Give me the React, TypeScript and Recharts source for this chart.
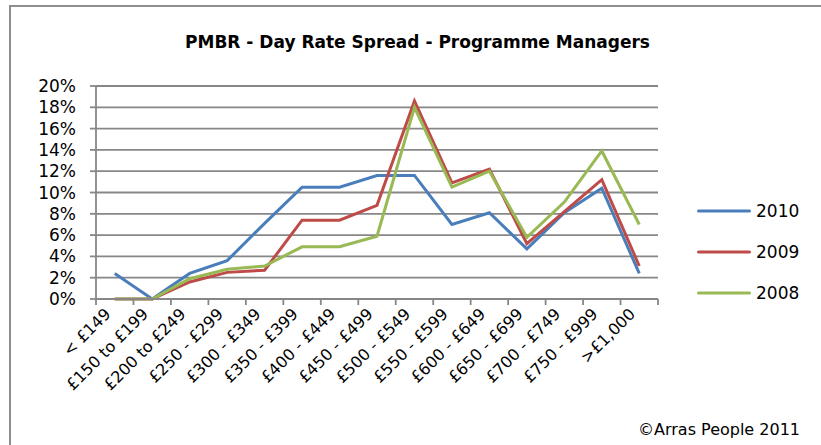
import React from 'react';
import { LineChart, Line, XAxis, YAxis, CartesianGrid, Legend } from 'recharts';

const categories = [
  '< £149',
  '£150 to £199',
  '£200 to £249',
  '£250 - £299',
  '£300 - £349',
  '£350 - £399',
  '£400 - £449',
  '£450 - £499',
  '£500 - £549',
  '£550 - £599',
  '£600 - £649',
  '£650 - £699',
  '£700 - £749',
  '£750 - £999',
  '>£1,000',
];

const series2010 = [2.4, 0, 2.4, 3.6, 7.1, 10.5, 10.5, 11.6, 11.6, 7.0, 8.1, 4.7, 8.1, 10.4, 2.4];
const series2009 = [0, 0, 1.6, 2.5, 2.7, 7.4, 7.4, 8.8, 18.6, 10.9, 12.2, 5.2, 8.2, 11.2, 3.1];
const series2008 = [0, 0, 1.9, 2.8, 3.1, 4.9, 4.9, 5.9, 18.0, 10.5, 12.0, 5.8, 9.1, 13.9, 7.0];

const seriesNames = ['2010', '2009', '2008'];
const seriesColors = ['#4A7EBB', '#BE4B48', '#98B954'];
const yTicks = [0, 2, 4, 6, 8, 10, 12, 14, 16, 18, 20];

const titleText = 'PMBR - Day Rate Spread - Programme Managers';
const copyrightText = '©Arras People 2011';

const FONT = '"DejaVu Sans", sans-serif';
const GRID = '#878787';

const data = categories.map((c, i) => ({
  pos: i + 0.5,
  name: c,
  s2010: series2010[i],
  s2009: series2009[i],
  s2008: series2008[i],
}));

const boundaryTicks = [...categories.map((_, i) => i), categories.length];
const centerTicks = categories.map((_, i) => i + 0.5);

const EmptyTick = () => <g />;

const CategoryTick = (props: any) => {
  const { x, y, payload } = props;
  const idx = Math.round(payload.value - 0.5);
  const label = categories[idx] ?? '';
  const ax = x - 3;
  const ay = y + 7;
  return (
    <text
      x={ax}
      y={ay}
      textAnchor="end"
      fontSize={16}
      fontFamily={FONT}
      fill="#000"
      transform={`rotate(-45, ${ax}, ${ay})`}
    >
      {label}
    </text>
  );
};

const LegendContent = (props: any) => {
  const payload = props.payload || [];
  const ordered = seriesNames
    .map((n) => payload.find((p: any) => p.value === n))
    .filter(Boolean);
  return (
    <div style={{ fontFamily: FONT, fontSize: 17, color: '#000' }}>
      {ordered.map((p: any) => (
        <div key={p.value} style={{ display: 'flex', alignItems: 'center', height: 41 }}>
          <svg width={54} height={6} style={{ display: 'block' }}>
            <line x1={1.5} y1={3} x2={52.5} y2={3} stroke={p.color} strokeWidth={3} strokeLinecap="round" />
          </svg>
          <span style={{ marginLeft: 5, lineHeight: '20px' }}>{p.value}</span>
        </div>
      ))}
    </div>
  );
};

export default function App() {
  return (
    <div
      style={{
        position: 'absolute',
        left: 0,
        top: 0,
        width: 821,
        height: 445,
        overflow: 'hidden',
        background: '#fff',
        fontFamily: FONT,
      }}
    >
      <div
        style={{
          position: 'absolute',
          left: 9,
          top: 5,
          width: 900,
          height: 500,
          borderTop: '2px solid #8e8e8e',
          borderLeft: '2px solid #8e8e8e',
        }}
      />
      <LineChart
        width={821}
        height={445}
        data={data}
        margin={{ top: 86, right: 163, bottom: 0, left: 0 }}
      >
        <CartesianGrid xAxisId={1} vertical={false} stroke={GRID} strokeWidth={1.8} />
        <XAxis
          xAxisId={0}
          dataKey="pos"
          type="number"
          domain={[0, categories.length]}
          ticks={boundaryTicks}
          interval={0}
          height={1}
          tick={<EmptyTick />}
          tickSize={6}
          axisLine={{ stroke: GRID, strokeWidth: 1.8 }}
          tickLine={{ stroke: GRID, strokeWidth: 1.8 }}
        />
        <XAxis
          xAxisId={1}
          dataKey="pos"
          type="number"
          domain={[0, categories.length]}
          ticks={centerTicks}
          interval={0}
          height={145}
          axisLine={false}
          tickLine={false}
          tick={<CategoryTick />}
        />
        <YAxis
          type="number"
          domain={[0, 20]}
          ticks={yTicks}
          interval={0}
          width={96}
          tickSize={6}
          tickMargin={14}
          tickFormatter={(v: number) => `${v}%`}
          tick={{ fontSize: 17, fontFamily: FONT, fill: '#000' }}
          axisLine={{ stroke: GRID, strokeWidth: 1.8 }}
          tickLine={{ stroke: GRID, strokeWidth: 1.8 }}
        />
        <Legend
          layout="vertical"
          align="center"
          verticalAlign="middle"
          wrapperStyle={{ left: 697, top: 190, width: 124 }}
          content={<LegendContent />}
        />
        <Line
          xAxisId={1}
          type="linear"
          dataKey="s2010"
          name={seriesNames[0]}
          stroke={seriesColors[0]}
          strokeWidth={3}
          dot={false}
          isAnimationActive={false}
        />
        <Line
          xAxisId={1}
          type="linear"
          dataKey="s2009"
          name={seriesNames[1]}
          stroke={seriesColors[1]}
          strokeWidth={3}
          dot={false}
          isAnimationActive={false}
        />
        <Line
          xAxisId={1}
          type="linear"
          dataKey="s2008"
          name={seriesNames[2]}
          stroke={seriesColors[2]}
          strokeWidth={3}
          dot={false}
          isAnimationActive={false}
        />
      </LineChart>
      <div
        style={{
          position: 'absolute',
          left: 0,
          top: 32,
          width: 835,
          textAlign: 'center',
          fontSize: 17,
          fontWeight: 'bold',
          lineHeight: '20px',
          color: '#000',
          whiteSpace: 'nowrap',
        }}
      >
        {titleText}
      </div>
      <div
        style={{
          position: 'absolute',
          left: 638,
          top: 420,
          fontSize: 16,
          lineHeight: '20px',
          color: '#000',
          whiteSpace: 'nowrap',
        }}
      >
        {copyrightText}
      </div>
    </div>
  );
}
